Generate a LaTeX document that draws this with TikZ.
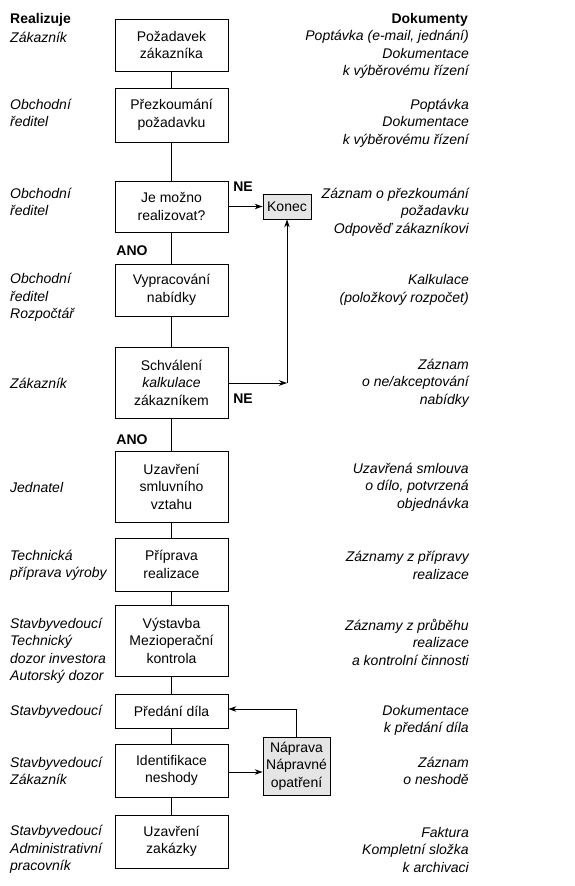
\documentclass[tikz,border=0pt]{standalone}
\usepackage{fontspec}
\setmainfont{Liberation Sans}
\usetikzlibrary{arrows.meta}
\newcommand{\fs}{\fontsize{14}{17.5}\selectfont}
\begin{document}
\begin{tikzpicture}[x=1pt,y=-1pt,
  every node/.style={font=\fs, inner sep=0pt},
  box/.style={draw, line width=0.8pt, minimum width=113pt, align=center},
  graybox/.style={draw, line width=0.8pt, fill=black!10, align=center},
  lefttext/.style={anchor=west, align=left, font=\fs\itshape},
  righttext/.style={anchor=east, align=right, font=\fs\itshape},
  headtext/.style={font=\fs\bfseries},
  conn/.style={line width=0.8pt},
  arr/.style={line width=0.8pt, -{Stealth[length=8pt,width=5.5pt]}}]
\useasboundingbox (0,0) rectangle (575,886);

% process boxes
\node[box, minimum height=52pt] (b1) at (171.5,45) {Požadavek\\zákazníka};
\node[box, minimum height=54pt] (b2) at (171.5,115) {Přezkoumání\\požadavku};
\node[box, minimum height=51pt] (b3) at (171.5,206.5) {Je možno\\realizovat?};
\node[box, minimum height=52pt] (b4) at (171.5,290) {Vypracování\\nabídky};
\node[box, minimum height=71pt] (b5) at (171.5,382.5) {Schválení\\\textit{kalkulace}\\zákazníkem};
\node[box, minimum height=71pt] (b6) at (171.5,486.5) {Uzavření\\smluvního\\vztahu};
\node[box, minimum height=53pt] (b7) at (171.5,564.5) {Příprava\\realizace};
\node[box, minimum height=71pt] (b8) at (171.5,640.5) {Výstavba\\Mezioperační\\kontrola};
\node[box, minimum height=34pt] (b9) at (171.5,711) {Předání díla};
\node[box, minimum height=53pt] (b10) at (171.5,770.5) {Identifikace\\neshody};
\node[box, minimum height=53pt] (b11) at (171.5,841.5) {Uzavření\\zakázky};

\node[graybox, minimum width=48pt, minimum height=25pt] (konec) at (287,206.5) {Konec};
\node[graybox, minimum width=67pt, minimum height=58pt] (naprava) at (296.5,766) {Náprava\\Nápravné\\opatření};

% labels
\node[headtext] (ne1) at (243,187) {NE};
\node[headtext] (ne2) at (243,399) {NE};
\node[headtext] (ano1) at (132,251) {ANO};
\node[headtext] (ano2) at (132,440) {ANO};

% vertical connectors
\draw[conn] (b1.south) -- (b2.north);
\draw[conn] (b2.south) -- (b3.north);
\draw[conn] (b3.south) -- (b4.north);
\draw[conn] (b4.south) -- (b5.north);
\draw[conn] (b5.south) -- (b6.north);
\draw[conn] (b6.south) -- (b7.north);
\draw[conn] (b7.south) -- (b8.north);
\draw[conn] (b8.south) -- (b9.north);
\draw[conn] (b9.south) -- (b10.north);
\draw[conn] (b10.south) -- (b11.north);

% arrows
\draw[arr] (b3.east) -- (konec.west);
\coordinate (c1) at (287,383);
\draw[arr] (b5.east |- c1) -- (c1);
\draw[arr] (c1) -- (konec.south);
\draw[arr] (b10.east |- 0,772) -- (naprava.west |- 0,772);
\coordinate (c2) at (296.5,709);
\draw[conn] (naprava.north) -- (c2);
\draw[arr] (c2) -- (b9.east |- c2);

% left column
\node[headtext, anchor=west] (l0) at (10,20) {Realizuje};
\node[lefttext] (l1) at (10,37) {Zákazník};
\node[lefttext] (l2) at (10,113) {Obchodní\\ředitel};
\node[lefttext] (l3) at (10,202) {Obchodní\\ředitel};
\node[lefttext] (l4) at (10,297.5) {Obchodní\\ředitel\\Rozpočtář};
\node[lefttext] (l5) at (10,383) {Zákazník};
\node[lefttext] (l6) at (10,487) {Jednatel};
\node[lefttext] (l7) at (10,565.5) {Technická\\příprava výroby};
\node[lefttext] (l8) at (10,651) {Stavbyvedoucí\\Technický\\dozor investora\\Autorský dozor};
\node[lefttext] (l9) at (10,712) {Stavbyvedoucí};
\node[lefttext] (l10) at (10,771) {Stavbyvedoucí\\Zákazník};
\node[lefttext] (l11) at (10,849.5) {Stavbyvedoucí\\Administrativní\\pracovník};

% right column
\node[headtext, anchor=east] (r0) at (468,20) {Dokumenty};
\node[righttext] (r1) at (469,54.5) {Poptávka (e-mail, jednání)\\Dokumentace\\k výběrovému řízení};
\node[righttext] (r2) at (469,123) {Poptávka\\Dokumentace\\k výběrovému řízení};
\node[righttext] (r3) at (469,212) {Záznam o přezkoumání\\požadavku\\Odpověď zákazníkovi};
\node[righttext] (r4) at (469,290) {Kalkulace\\(položkový rozpočet)};
\node[righttext] (r5) at (469,383) {Záznam\\o ne/akceptování\\nabídky};
\node[righttext] (r6) at (469,487) {Uzavřená smlouva\\o dílo, potvrzená\\objednávka};
\node[righttext] (r7) at (469,565.5) {Záznamy z přípravy\\realizace};
\node[righttext] (r8) at (469,642) {Záznamy z průběhu\\realizace\\a kontrolní činnosti};
\node[righttext] (r9) at (469,720.5) {Dokumentace\\k předání díla};
\node[righttext] (r10) at (469,771) {Záznam\\o neshodě};
\node[righttext] (r11) at (469,849.5) {Faktura\\Kompletní složka\\k archivaci};
\end{tikzpicture}
\end{document}
